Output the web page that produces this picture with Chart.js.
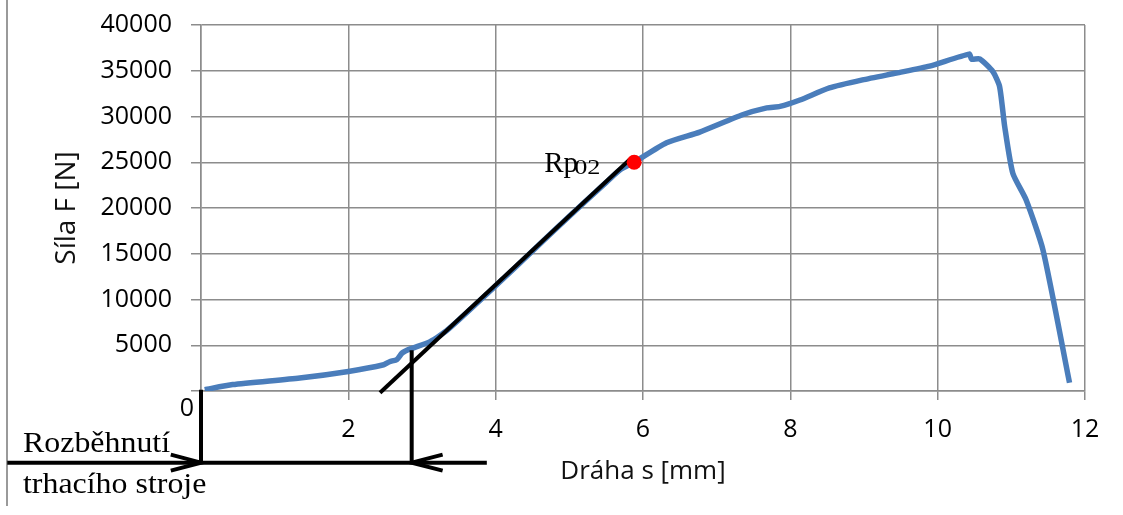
<!DOCTYPE html>
<html>
<head>
<meta charset="utf-8">
<script src="https://cdn.jsdelivr.net/npm/chart.js@4"></script>
<style>
  html, body { margin: 0; padding: 0; background: #fff; }
  #wrap { position: relative; width: 1123px; height: 515px; }
  #frame { position: absolute; left: 6px; top: 0; width: 2px; height: 506px; background: #9a9a9a; }
  canvas { position: absolute; left: 0; top: 0; }
</style>
</head>
<body>
<div id="wrap">
  <div id="frame"></div>
  <canvas id="tensile" width="1123" height="515"></canvas>
</div>
<script>
// measured curve: displacement s [mm] vs force F [N]
const sX = [0.05, 0.43, 1.34, 2.0, 2.48, 2.56, 2.66, 2.73, 2.84, 3.11, 3.35, 4.0, 4.5, 5.0, 5.5, 5.69, 5.88,
            6.32, 6.77, 7.35, 7.68, 7.86, 8.13, 8.53, 8.98, 9.44, 9.89, 10.43, 10.46, 10.57, 10.75, 10.84,
            10.91, 11.02, 11.2, 11.43, 11.79];
const sF = [150, 700, 1420, 2140, 2870, 3200, 3450, 4150, 4600, 5400, 6700, 11500, 15300, 19100, 22800, 24170, 25000,
            27140, 28300, 30190, 30940, 31100, 31800, 33120, 34000, 34750, 35500, 36820, 36260, 36300, 34900, 33300,
            28900, 23800, 20900, 15400, 900];

// tangent to the elastic part and the Rp0,2 point
const tanX = [2.43, 5.82];
const tanF = [-200, 25300];
const rpX = [5.88];
const rpF = [25000];

// "Rozběhnutí trhacího stroje" markers (drawn below the axis)
const startX = [0, 0];
const startF = [150, -7830];
const yieldX = [2.86, 2.86];
const yieldF = [4450, -7830];
const baseX = [-2.63, 3.88];
const baseF = [-7830, -7830];
const arrowAX = [-0.41, 0, -0.41];
const arrowBX = [3.28, 2.86, 3.28];
const arrowF = [-6960, -7830, -8700];

const xTicks = [0, 2, 4, 6, 8, 10, 12];
const yTicks = [0, 5000, 10000, 15000, 20000, 25000, 30000, 35000, 40000];

function pts(xs, ys) {
    return xs.map(function (x, i) { return { x: x, y: ys[i] }; });
}

function blackLine(xs, ys) {
    return {
        data: pts(xs, ys),
        showLine: true,
        borderColor: "#000",
        borderWidth: 4,
        pointRadius: 0,
        clip: false,
        order: 2
    };
}

const gridColor = "#8c8c8c";

// extra texts: the shifted "0", Rp02 label and the serif note
const notes = {
    id: "notes",
    afterDatasetsDraw: function (chart) {
        const ctx = chart.ctx;
        const xs = chart.scales.x, ys = chart.scales.y;
        ctx.save();
        ctx.fillStyle = "#000";
        ctx.font = "25px 'Open Sans'";
        ctx.textAlign = "right";
        ctx.textBaseline = "middle";
        ctx.fillText("0", chart.chartArea.left - 7, ys.getPixelForValue(0) + 18);

        ctx.textAlign = "left";
        ctx.textBaseline = "alphabetic";
        const px = xs.getPixelForValue(rpX[0]), py = ys.getPixelForValue(rpF[0]);
        ctx.font = "29px 'Liberation Serif'";
        ctx.fillText("Rp", px - 90, py + 10);
        ctx.save();
        ctx.translate(px - 60, py + 12);
        ctx.scale(1.25, 1);
        ctx.font = "21px 'Liberation Serif'";
        ctx.fillText("02", 0, 0);
        ctx.restore();

        const ly = ys.getPixelForValue(baseF[0]);
        ctx.save();
        ctx.translate(23, 0);
        ctx.scale(1.1, 1);
        ctx.font = "29px 'Liberation Serif'";
        ctx.fillText("Rozběhnutí", 0, ly - 11);
        ctx.fillText("trhacího stroje", 0, ly + 30);
        ctx.restore();
        ctx.restore();
    }
};

new Chart(document.getElementById("tensile"), {
    type: "scatter",
    data: {
        datasets: [
            {
                data: pts(rpX, rpF),
                pointRadius: 7.5,
                pointBackgroundColor: "#ff0000",
                pointBorderWidth: 0,
                order: 1
            },
            blackLine(tanX, tanF),
            blackLine(startX, startF),
            blackLine(yieldX, yieldF),
            blackLine(baseX, baseF),
            blackLine(arrowAX, arrowF),
            blackLine(arrowBX, arrowF),
            {
                data: pts(sX, sF),
                showLine: true,
                borderColor: "#4a7dbb",
                borderWidth: 5.5,
                pointRadius: 0,
                tension: 0.2,
                order: 3
            }
        ]
    },
    options: {
        responsive: false,
        animation: false,
        layout: { padding: { top: 25, right: 38, left: 0, bottom: 0 } },
        plugins: { legend: { display: false }, tooltip: { enabled: false } },
        scales: {
            x: {
                type: "linear",
                min: 0,
                max: 12,
                afterBuildTicks: function (s) { s.ticks = xTicks.map(function (v) { return { value: v }; }); },
                afterFit: function (s) { s.height = 124; s.paddingLeft = 0; s.paddingRight = 0; },
                ticks: {
                    font: { family: "'Open Sans'", size: 25 },
                    color: "#000",
                    padding: 15,
                    maxRotation: 0,
                    callback: function (v) { return v === 0 ? "" : v; }
                },
                grid: { color: gridColor, lineWidth: 1.5, tickLength: 9 },
                border: { color: gridColor, width: 1.5 },
                title: {
                    display: true,
                    text: "Dráha s [mm]",
                    font: { family: "'Open Sans'", size: 26 },
                    color: "#111",
                    padding: { top: 0, bottom: 28 }
                }
            },
            y: {
                min: 0,
                max: 40000,
                afterBuildTicks: function (s) { s.ticks = yTicks.map(function (v) { return { value: v }; }); },
                afterFit: function (s) { s.width = 201; s.paddingTop = 0; s.paddingBottom = 0; },
                ticks: {
                    font: { family: "'Open Sans'", size: 25 },
                    color: "#000",
                    padding: 19,
                    callback: function (v) { return v === 0 ? "" : v; }
                },
                grid: { color: gridColor, lineWidth: 1.5, tickLength: 10 },
                border: { color: gridColor, width: 1.5 },
                title: {
                    display: true,
                    text: "Síla F [N]",
                    font: { family: "'Open Sans'", size: 28 },
                    color: "#111",
                    padding: { top: 50, bottom: 0 }
                }
            }
        }
    },
    plugins: [notes]
});
</script>
</body>
</html>
